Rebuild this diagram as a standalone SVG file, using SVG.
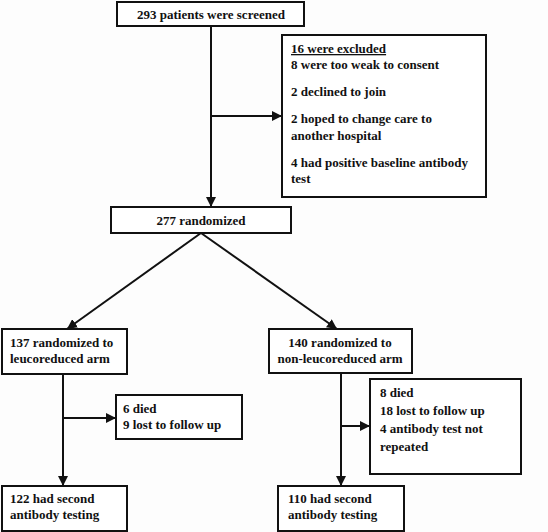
<svg xmlns="http://www.w3.org/2000/svg" width="548" height="532" viewBox="0 0 548 532">
<style>
.box{fill:#fff;stroke:#111;stroke-width:2}
.t{font-family:"Liberation Serif","Times New Roman",serif;font-weight:bold;font-size:13px;fill:#111}
.c{text-anchor:middle}
.ln{stroke:#111;stroke-width:2;fill:none}
</style>
<defs>
<marker id="ah" viewBox="0 0 10 10" refX="10" refY="5" markerWidth="5" markerHeight="5" orient="auto" markerUnits="strokeWidth">
<path d="M0,0 L10,5 L0,10 z" fill="#111"/>
</marker>
</defs>
<rect width="548" height="532" fill="#fdfdfd"/>
<g id="connectors">
<line class="ln" x1="211" y1="26" x2="211" y2="207" marker-end="url(#ah)"/>
<line class="ln" x1="211" y1="116" x2="282" y2="116" marker-end="url(#ah)"/>
<line class="ln" x1="201" y1="233" x2="67" y2="329" marker-end="url(#ah)"/>
<line class="ln" x1="201" y1="233" x2="337" y2="329" marker-end="url(#ah)"/>
<line class="ln" x1="63" y1="374" x2="63" y2="486" marker-end="url(#ah)"/>
<line class="ln" x1="63" y1="418" x2="116" y2="418" marker-end="url(#ah)"/>
<line class="ln" x1="341" y1="373" x2="341" y2="486" marker-end="url(#ah)"/>
<line class="ln" x1="341" y1="426" x2="370" y2="426" marker-end="url(#ah)"/>
</g>
<g id="screened">
<rect class="box" x="117" y="2" width="187" height="24"/>
<text class="t c" x="211" y="19">293 patients were screened</text>
</g>
<g id="excluded">
<rect class="box" x="282" y="35" width="204" height="162"/>
<text class="t" x="291" y="53" text-decoration="underline">16 were excluded</text>
<text class="t" x="291" y="69">8 were too weak to consent</text>
<text class="t" x="291" y="96">2 declined to join</text>
<text class="t" x="291" y="123">2 hoped to change care to</text>
<text class="t" x="291" y="140">another hospital</text>
<text class="t" x="291" y="167">4 had positive baseline antibody</text>
<text class="t" x="291" y="183">test</text>
</g>
<g id="randomized">
<rect class="box" x="111" y="207" width="180" height="26"/>
<text class="t c" x="201" y="225">277 randomized</text>
</g>
<g id="leuco">
<rect class="box" x="2" y="329" width="125" height="45"/>
<text class="t" x="10" y="347">137 randomized to</text>
<text class="t" x="10" y="363">leucoreduced arm</text>
</g>
<g id="leucoLoss">
<rect class="box" x="116" y="395" width="126" height="44"/>
<text class="t" x="123" y="413">6 died</text>
<text class="t" x="123" y="429">9 lost to follow up</text>
</g>
<g id="leucoTested">
<rect class="box" x="2" y="486" width="125" height="45"/>
<text class="t" x="10" y="503">122 had second</text>
<text class="t" x="10" y="519">antibody testing</text>
</g>
<g id="nonleuco">
<rect class="box" x="269" y="329" width="143" height="44"/>
<text class="t c" x="340" y="347">140 randomized to</text>
<text class="t c" x="340" y="363">non-leucoreduced arm</text>
</g>
<g id="nonleucoLoss">
<rect class="box" x="370" y="379" width="151" height="95"/>
<text class="t" x="380" y="397">8 died</text>
<text class="t" x="380" y="415">18 lost to follow up</text>
<text class="t" x="380" y="433">4 antibody test not</text>
<text class="t" x="380" y="451">repeated</text>
</g>
<g id="nonleucoTested">
<rect class="box" x="278" y="486" width="126" height="45"/>
<text class="t" x="288" y="503">110 had second</text>
<text class="t" x="288" y="519">antibody testing</text>
</g>
</svg>
